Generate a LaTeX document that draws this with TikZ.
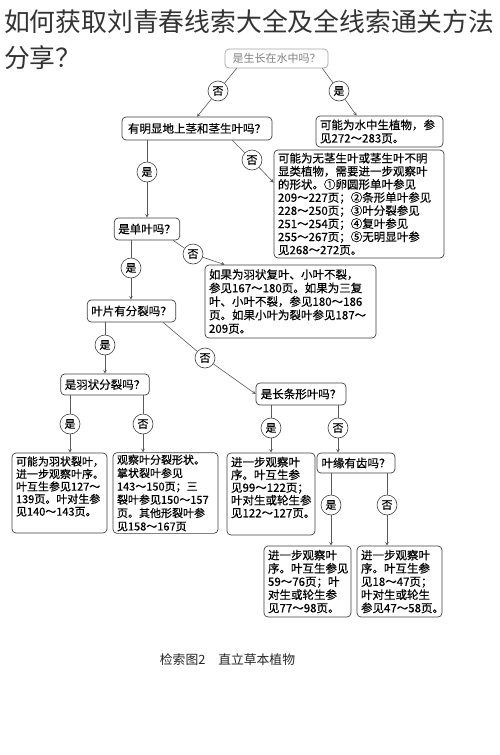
\documentclass[tikz,border=0pt]{standalone}
\usepackage{fontspec}
\setmainfont{Noto Sans CJK SC}
\newfontfamily\boxfont{Noto Sans CJK SC}[FakeBold=0.4]
\usepackage{xcolor}

\tikzset{
  box/.style={draw=black!75, line width=0.7pt, rounded corners=4pt, fill=white,
    align=left, inner xsep=4pt, inner ysep=2pt, font=\boxfont\fontsize{11.5}{13.2}\selectfont},
  ask/.style={box, align=center},
  ans/.style={circle, draw=black!75, line width=0.6pt, fill=white,
    minimum size=20pt, inner sep=0pt, font=\boxfont\fontsize{11}{11}\selectfont},
  link/.style={draw=black!65, line width=0.6pt, >=stealth},
}

\begin{document}
\begin{tikzpicture}[x=1pt, y=-1pt]
\useasboundingbox[fill=white] (0,0) rectangle (500,755);
% Title
\node[anchor=west, inner sep=0pt, text=black!80, font=\fontsize{25.8}{30}\selectfont] (title1) at (4,22) {如何获取刘青春线索大全及全线索通关方法};
\node[anchor=west, inner sep=0pt, text=black!80, font=\fontsize{25.8}{30}\selectfont] (title2) at (4,58) {分享？};
% Questions
\node[ask, draw=black!35, text=black!50, minimum width=103pt, minimum height=19pt, font=\fontsize{11}{13}\selectfont] (top) at (276.5,58.5) {是生长在水中吗？};
\node[ask, minimum width=150pt, minimum height=23pt] (q2) at (197,128.5) {有明显地上茎和茎生叶吗？};
\node[ask, minimum width=63pt, minimum height=22pt] (q3) at (147,229) {是单叶吗？};
\node[ask, minimum width=87pt, minimum height=22pt] (q4) at (131.5,311) {叶片有分裂吗？};
\node[ask, minimum width=84pt, minimum height=21pt] (q5) at (105,384.5) {是羽状分裂吗？};
\node[ask, minimum width=90pt, minimum height=22pt] (q6) at (301,394) {是长条形叶吗？};
\node[ask, minimum width=78pt, minimum height=20pt] (q7) at (356,463) {叶缘有齿吗？};
% Answers
\node[box, text width=119pt, minimum height=31pt] (a1) at (379.5,131.5) {可能为水中生植物，参\\见272～283页。};
\node[box, text width=162pt, minimum height=108pt, font=\boxfont\fontsize{11.5}{13.1}\selectfont] (a2) at (359,204) {可能为无茎生叶或茎生叶不明\\显类植物，需要进一步观察叶\\的形状。①卵圆形单叶参见\\209～227页；②条形单叶参见\\228～250页；③叶分裂参见\\251～254页；④复叶参见\\255～267页；⑤无明显叶参\\见268～272页。};
\node[box, text width=163pt, minimum height=73pt, font=\boxfont\fontsize{11.5}{13.5}\selectfont] (a3) at (290.5,301.5) {如果为羽状复叶、小叶不裂，\\参见167～180页。如果为三复\\叶、小叶不裂，参见180～186\\页。如果小叶为裂叶参见187～\\209页。};
\node[box, text width=87pt, minimum height=80pt, font=\boxfont\fontsize{11}{12.5}\selectfont] (b1) at (59.5,493) {可能为羽状裂叶，\\进一步观察叶序。\\叶互生参见127～\\139页。叶对生参\\见140～143页。\rule[-14pt]{0pt}{1pt}};
\node[box, text width=97pt, minimum height=80pt, font=\boxfont\fontsize{11}{13.3}\selectfont] (b2) at (165.5,493) {观察叶分裂形状。\\掌状裂叶参见\\143～150页；三\\裂叶参见150～157\\页。其他形裂叶参\\见158～167页};
\node[box, text width=80pt, minimum height=82pt, font=\boxfont\fontsize{11.5}{12.7}\selectfont] (b3) at (271,494) {进一步观察叶\\序。叶互生参\\见99～122页；\\叶对生或轮生参\\见122～127页。\rule[-14pt]{0pt}{1pt}};
\node[box, text width=79pt, minimum height=71pt] (b4) at (307.5,581.5) {进一步观察叶\\序。叶互生参见\\59～76页；叶\\对生或轮生参\\见77～98页。};
\node[box, text width=77pt, minimum height=71pt] (b5) at (399.5,581.5) {进一步观察叶\\序。叶互生参\\见18～47页；\\叶对生或轮生\\参见47～58页。};
% Yes / no marks
\node[ans] (c1) at (218,91) {否};
\node[ans] (c2) at (339,91) {是};
\node[ans] (c3) at (252,160) {否};
\node[ans] (c4) at (147,172) {是};
\node[ans] (c5) at (193,254) {否};
\node[ans] (c6) at (131,268) {是};
\node[ans] (c7) at (105,345) {是};
\node[ans] (c8) at (205,358) {否};
\node[ans] (c9) at (70,424) {是};
\node[ans] (c10) at (143,424) {否};
\node[ans] (c11) at (271,428) {是};
\node[ans] (c12) at (338,428) {否};
\node[ans] (c13) at (331,505) {是};
\node[ans] (c14) at (387,505) {否};
% Connectors
\draw[link] ([xshift=12pt]top.south west) -- (c1);
\draw[link,->] (c1) -- (q2.north);
\draw[link] ([xshift=-6pt]top.south east) -- (c2);
\draw[link,->] (c2) -- ([xshift=41pt]a1.north west);
\draw[link] ([xshift=-40pt]q2.south east) -- (c3);
\draw[link,->] (c3) -- ([yshift=-33pt]a2.north west);
\draw[link] (c4 |- q2.south) -- (c4);
\draw[link,->] (c4) -- (c4 |- q3.north);
\draw[link] ([xshift=-7pt]q3.south east) -- (c5);
\draw[link,->] (c5) -- ([xshift=20pt]a3.north west);
\draw[link] (c6 |- q3.south) -- (c6);
\draw[link,->] (c6) -- (c6 |- q4.north);
\draw[link] (c7 |- q4.south) -- (c7);
\draw[link,->] (c7) -- (c7 |- q5.north);
\draw[link] ([xshift=-13pt]q4.south east) -- (c8);
\draw[link,->] (c8) -- (q6.west);
\draw[link] (c9 |- q5.south) -- (c9);
\draw[link,->] (c9) -- (c9 |- b1.north);
\draw[link] (c10 |- q5.south) -- (c10);
\draw[link,->] (c10) -- (c10 |- b2.north);
\draw[link] (c11 |- q6.south) -- (c11);
\draw[link,->] (c11) -- (c11 |- b3.north);
\draw[link] (c12 |- q6.south) -- (c12);
\draw[link,->] (c12) -- (c12 |- q7.north);
\draw[link] (c13 |- q7.south) -- (c13);
\draw[link,->] (c13) -- (c13 |- b4.north);
\draw[link] (c14 |- q7.south) -- (c14);
\draw[link,->] (c14) -- (c14 |- b5.north);
% Caption
\node[text=black!85, font=\fontsize{12.8}{15}\selectfont] (caption) at (227.5,660) {检索图2\quad 直立草本植物};
\end{tikzpicture}
\end{document}
